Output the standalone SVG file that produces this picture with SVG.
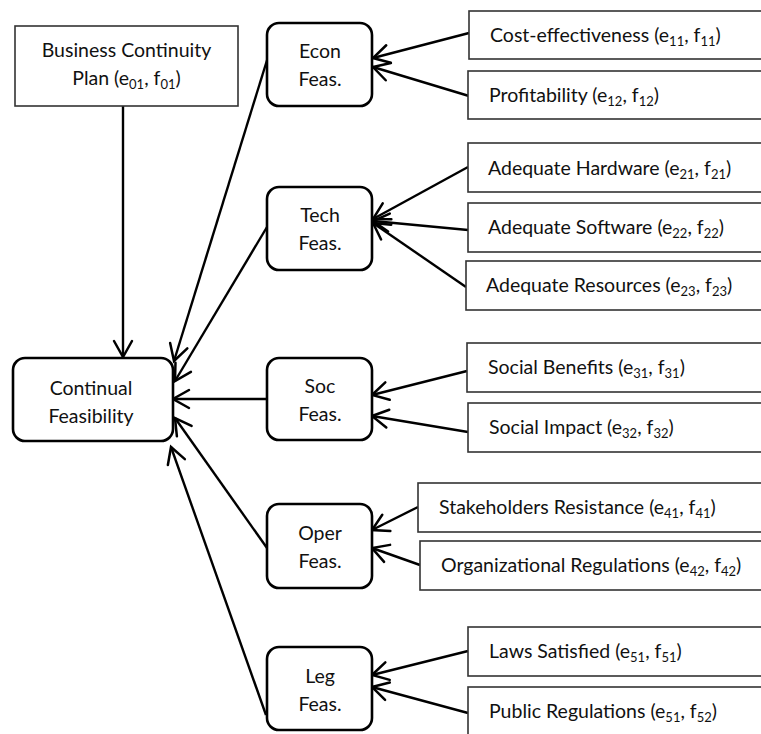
<svg xmlns="http://www.w3.org/2000/svg" width="761" height="734" viewBox="0 0 761 734">
<defs>
<marker id="arr" markerUnits="userSpaceOnUse" markerWidth="30" markerHeight="30" viewBox="-20 -15 30 30" refX="0" refY="0" orient="auto">
<path d="M -16 -9 L 0 0 L -16 9" fill="none" stroke="#000" stroke-width="2.5" stroke-linecap="round" stroke-linejoin="miter"/>
</marker>
<style>
.rect{fill:#fff;stroke:#333;stroke-width:1.6}
.rnd{fill:#fff;stroke:#000;stroke-width:2.6}
.t{font-family:Lato,"Liberation Sans",sans-serif;font-size:19.5px;fill:#111}
.c{text-anchor:middle}
.s{font-size:13px}
.ln{stroke:#000;stroke-width:2.4;fill:none;marker-end:url(#arr)}
</style>
</defs>
<rect width="761" height="734" fill="#fff"/>

<g id="connectors">
<line class="ln" x1="123" y1="106" x2="123" y2="357"/>
<line class="ln" x1="268" y1="57" x2="174" y2="361"/>
<line class="ln" x1="267" y1="227" x2="175" y2="381"/>
<line class="ln" x1="267" y1="399" x2="173" y2="399"/>
<line class="ln" x1="267" y1="548" x2="175" y2="418"/>
<line class="ln" x1="266" y1="715" x2="171" y2="447"/>
<line class="ln" x1="469" y1="33" x2="373" y2="58"/>
<line class="ln" x1="469" y1="96" x2="373" y2="67"/>
<line class="ln" x1="468" y1="167" x2="373" y2="219"/>
<line class="ln" x1="468" y1="230" x2="373" y2="221"/>
<line class="ln" x1="466" y1="287" x2="373" y2="223"/>
<line class="ln" x1="467" y1="371" x2="372" y2="395"/>
<line class="ln" x1="468" y1="432" x2="372" y2="416"/>
<line class="ln" x1="418" y1="507" x2="372" y2="530"/>
<line class="ln" x1="420" y1="565" x2="372" y2="548"/>
<line class="ln" x1="468" y1="651" x2="372" y2="675"/>
<line class="ln" x1="468" y1="713" x2="372" y2="687"/>
</g>

<g id="bcp">
<rect class="rect" x="15" y="26" width="223" height="80"/>
<text class="t c" x="126.5" y="57">Business Continuity</text>
<text class="t c" x="126.5" y="85">Plan (e<tspan class="s" dy="4">01</tspan><tspan dy="-4">, f</tspan><tspan class="s" dy="4">01</tspan><tspan dy="-4">)</tspan></text>
</g>

<g id="cf">
<rect class="rnd" x="13" y="358" width="160" height="83" rx="12"/>
<text class="t c" x="91" y="395">Continual</text>
<text class="t c" x="91" y="423">Feasibility</text>
</g>

<g id="econ">
<rect class="rnd" x="267" y="23" width="105" height="83" rx="12"/>
<text class="t c" x="320" y="58">Econ</text>
<text class="t c" x="320" y="86">Feas.</text>
</g>
<g id="tech">
<rect class="rnd" x="267" y="187" width="105" height="83" rx="12"/>
<text class="t c" x="320" y="222">Tech</text>
<text class="t c" x="320" y="250">Feas.</text>
</g>
<g id="soc">
<rect class="rnd" x="267" y="358" width="105" height="82" rx="12"/>
<text class="t c" x="320" y="393">Soc</text>
<text class="t c" x="320" y="421">Feas.</text>
</g>
<g id="oper">
<rect class="rnd" x="267" y="504" width="105" height="84" rx="12"/>
<text class="t c" x="320" y="540">Oper</text>
<text class="t c" x="320" y="568">Feas.</text>
</g>
<g id="leg">
<rect class="rnd" x="267" y="647" width="105" height="83" rx="12"/>
<text class="t c" x="320" y="683">Leg</text>
<text class="t c" x="320" y="711">Feas.</text>
</g>

<g id="cost">
<rect class="rect" x="469" y="11" width="320" height="48"/>
<text class="t" x="490" y="42">Cost-effectiveness (e<tspan class="s" dy="4">11</tspan><tspan dy="-4">, f</tspan><tspan class="s" dy="4">11</tspan><tspan dy="-4">)</tspan></text>
</g>
<g id="profit">
<rect class="rect" x="468" y="71" width="320" height="48"/>
<text class="t" x="489" y="102">Profitability (e<tspan class="s" dy="4">12</tspan><tspan dy="-4">, f</tspan><tspan class="s" dy="4">12</tspan><tspan dy="-4">)</tspan></text>
</g>
<g id="hw">
<rect class="rect" x="468" y="143" width="320" height="49"/>
<text class="t" x="488" y="175">Adequate Hardware (e<tspan class="s" dy="4">21</tspan><tspan dy="-4">, f</tspan><tspan class="s" dy="4">21</tspan><tspan dy="-4">)</tspan></text>
</g>
<g id="sw">
<rect class="rect" x="468" y="203" width="320" height="49"/>
<text class="t" x="488" y="234">Adequate Software (e<tspan class="s" dy="4">22</tspan><tspan dy="-4">, f</tspan><tspan class="s" dy="4">22</tspan><tspan dy="-4">)</tspan></text>
</g>
<g id="res">
<rect class="rect" x="466" y="261" width="320" height="49"/>
<text class="t" x="486" y="292">Adequate Resources (e<tspan class="s" dy="4">23</tspan><tspan dy="-4">, f</tspan><tspan class="s" dy="4">23</tspan><tspan dy="-4">)</tspan></text>
</g>
<g id="socben">
<rect class="rect" x="467" y="343" width="320" height="49"/>
<text class="t" x="488" y="374">Social Benefits (e<tspan class="s" dy="4">31</tspan><tspan dy="-4">, f</tspan><tspan class="s" dy="4">31</tspan><tspan dy="-4">)</tspan></text>
</g>
<g id="socimp">
<rect class="rect" x="468" y="403" width="320" height="49"/>
<text class="t" x="489" y="434">Social Impact (e<tspan class="s" dy="4">32</tspan><tspan dy="-4">, f</tspan><tspan class="s" dy="4">32</tspan><tspan dy="-4">)</tspan></text>
</g>
<g id="stake">
<rect class="rect" x="418" y="483" width="370" height="49"/>
<text class="t" x="439" y="514">Stakeholders Resistance (e<tspan class="s" dy="4">41</tspan><tspan dy="-4">, f</tspan><tspan class="s" dy="4">41</tspan><tspan dy="-4">)</tspan></text>
</g>
<g id="org">
<rect class="rect" x="420" y="541" width="370" height="49"/>
<text class="t" x="441" y="572">Organizational Regulations (e<tspan class="s" dy="4">42</tspan><tspan dy="-4">, f</tspan><tspan class="s" dy="4">42</tspan><tspan dy="-4">)</tspan></text>
</g>
<g id="laws">
<rect class="rect" x="468" y="627" width="320" height="49"/>
<text class="t" x="489" y="658">Laws Satisfied (e<tspan class="s" dy="4">51</tspan><tspan dy="-4">, f</tspan><tspan class="s" dy="4">51</tspan><tspan dy="-4">)</tspan></text>
</g>
<g id="pub">
<rect class="rect" x="468" y="687" width="320" height="60"/>
<text class="t" x="489" y="718">Public Regulations (e<tspan class="s" dy="4">51</tspan><tspan dy="-4">, f</tspan><tspan class="s" dy="4">52</tspan><tspan dy="-4">)</tspan></text>
</g>
</svg>
